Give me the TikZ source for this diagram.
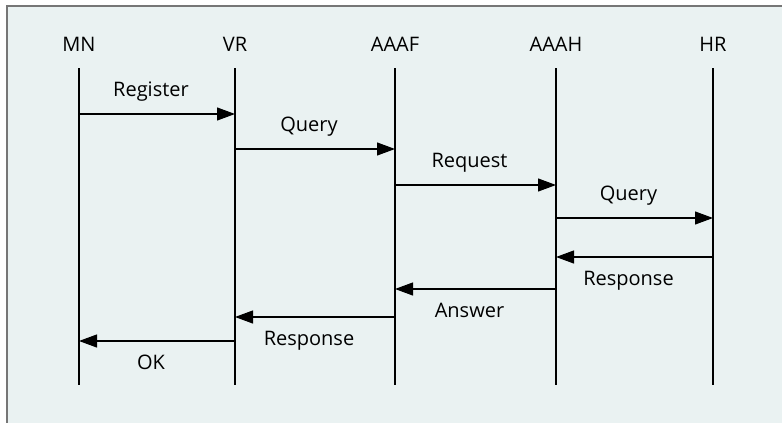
\documentclass[tikz,border=0pt]{standalone}
\usepackage{fontspec}
\setmainfont{Open Sans}
\usetikzlibrary{arrows.meta}
\definecolor{panelbg}{RGB}{234,242,242}
\definecolor{framegray}{RGB}{118,118,118}
\tikzset{
  entity/.style={anchor=base},
  lifeline/.style={line width=1.1pt},
  msg/.style={line width=1.1pt,-{Triangle[length=18pt,width=13pt]}},
  above msg/.style={midway,anchor=base,yshift=17.5pt,xshift=-6pt},
  below msg/.style={midway,anchor=base,yshift=-28.3pt,xshift=-6pt}
}

\begin{document}
\begin{tikzpicture}[x=1pt,y=-1pt,font=\fontsize{20}{24}\selectfont]
\useasboundingbox (0,0) rectangle (782,423);
\fill[white] (0,0) rectangle (782,423);
\fill[panelbg] (7,6) rectangle (782,423);
\draw[framegray,line width=2pt] (7,423) -- (7,6) -- (782,6);
% entities
\node[entity] (mn) at (79,51) {MN};
\node[entity] (vr) at (235,51) {VR};
\node[entity] (aaaf) at (395,51) {AAAF};
\node[entity] (aaah) at (556,51) {AAAH};
\node[entity] (hr) at (713,51) {HR};
\foreach \e in {mn,vr,aaaf,aaah,hr}
  \draw[lifeline] (\e |- 0,68) -- (\e |- 0,385);
% messages
\draw[msg] (mn |- 0,114) -- node[above msg] {Register} (vr |- 0,114);
\draw[msg] (vr |- 0,149) -- node[above msg] {Query} (aaaf |- 0,149);
\draw[msg] (aaaf |- 0,185) -- node[above msg] {Request} (aaah |- 0,185);
\draw[msg] (aaah |- 0,218) -- node[above msg] {Query} (hr |- 0,218);
\draw[msg] (hr |- 0,257) -- node[below msg] {Response} (aaah |- 0,257);
\draw[msg] (aaah |- 0,289) -- node[below msg] {Answer} (aaaf |- 0,289);
\draw[msg] (aaaf |- 0,317) -- node[below msg] {Response} (vr |- 0,317);
\draw[msg] (vr |- 0,341) -- node[below msg] {OK} (mn |- 0,341);
\end{tikzpicture}
\end{document}
